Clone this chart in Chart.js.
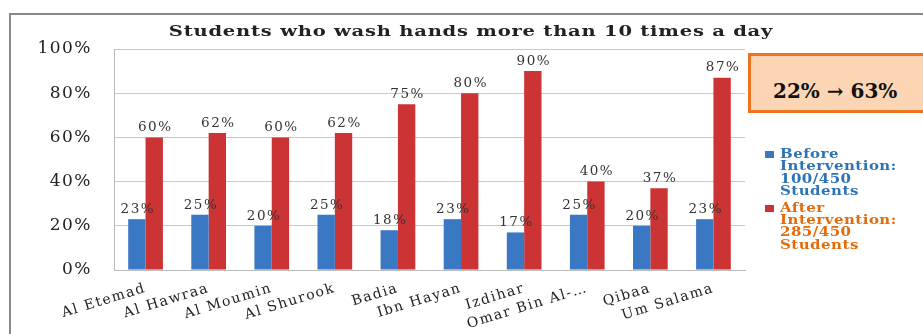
<!DOCTYPE html>
<html><head><meta charset="utf-8">
<script src="https://cdn.jsdelivr.net/npm/chart.js@4.4.1/dist/chart.umd.min.js"></script>
<style>
html,body{margin:0;padding:0;background:#fff;width:923px;height:334px;overflow:hidden;position:relative;}
#frame{position:absolute;left:9px;top:13px;width:930px;height:340px;border:2px solid #8a8a8a;box-sizing:border-box;}
#wrap{position:absolute;left:0;top:0;width:923px;height:334px;}
#title{position:absolute;left:0;top:22px;width:942px;text-align:center;font-family:"DejaVu Serif",serif;font-weight:bold;font-size:15px;line-height:18px;letter-spacing:0.6px;color:#222;white-space:nowrap;transform:scaleX(1.3);transform-origin:471px 0;}
#box{position:absolute;left:748px;top:53px;width:180px;height:60px;box-sizing:border-box;border:3px solid #E8761E;background:#FCD5B4;font-family:"DejaVu Serif",serif;font-weight:bold;font-size:20px;color:#111;padding:23px 0 0 22px;}
#legend{position:absolute;left:765px;top:148px;font-family:"DejaVu Serif",serif;font-weight:bold;font-size:12.5px;line-height:12.4px;letter-spacing:0.4px;}
.item{position:relative;padding-left:15px;margin-bottom:4px;}
.txt{display:inline-block;transform:scaleX(1.2);transform-origin:0 0;}
.sw{position:absolute;left:0;top:3px;width:9px;height:7px;}
</style></head>
<body>
<div id="frame"></div>
<div id="wrap"><canvas id="c" width="923" height="334"></canvas></div>
<div id="title"></div>
<div id="box">22% → 63%</div>
<div id="legend">
 <div class="item" style="color:#2E74B5"><span class="sw" style="background:#3A78C3"></span><span class="txt">Before<br>Intervention:<br>100/450<br>Students</span></div>
 <div class="item" style="color:#E36C0A"><span class="sw" style="background:#CB3335"></span><span class="txt">After<br>Intervention:<br>285/450<br>Students</span></div>
</div>
<script>
const categories = ["Al Etemad","Al Hawraa","Al Moumin","Al Shurook","Badia","Ibn Hayan","Izdihar","Omar Bin Al-…","Qibaa","Um Salama"];
const beforeValues = [23,25,20,25,18,23,17,25,20,23];
const afterValues = [60,62,60,62,75,80,90,40,37,87];
const yTicks = [0,20,40,60,80,100];
const titleText = "Students who wash hands more than 10 times a day";
document.getElementById('title').textContent = titleText;

const spacing = {
  id:'spacing',
  beforeUpdate(chart){ chart.ctx.letterSpacing = '1.5px'; },
  beforeDraw(chart){ chart.ctx.letterSpacing = '1.5px'; }
};

const valueLabels = {
  id:'valueLabels',
  afterDatasetsDraw(chart){
    const ctx = chart.ctx;
    ctx.save();
    ctx.letterSpacing = '1.5px';
    ctx.font = '13.5px "DejaVu Serif", serif';
    ctx.fillStyle = '#333';
    ctx.textAlign = 'center';
    ctx.textBaseline = 'bottom';
    chart.data.datasets.forEach((ds,i)=>{
      chart.getDatasetMeta(i).data.forEach((bar,j)=>{
        ctx.fillText(ds.data[j]+'%', bar.x+1, bar.y-3);
      });
    });
    ctx.restore();
  }
};

new Chart(document.getElementById('c'),{
  type:'bar',
  data:{labels:categories,datasets:[
    {label:'Before Intervention: 100/450 Students',data:beforeValues,backgroundColor:'#3A78C3',barPercentage:1,categoryPercentage:0.55},
    {label:'After Intervention: 285/450 Students',data:afterValues,backgroundColor:'#CB3335',barPercentage:1,categoryPercentage:0.55}
  ]},
  options:{
    responsive:false,animation:false,
    layout:{padding:{left:0,right:178,top:49,bottom:0}},
    plugins:{
      legend:{display:false},
      tooltip:{enabled:false},
      title:{display:false}
    },
    scales:{
      x:{
        grid:{display:false},
        border:{display:true,color:'#bbb'},
        ticks:{color:'#222',font:{family:'"DejaVu Serif", serif',size:14},minRotation:17,maxRotation:17,autoSkip:false,padding:2},
        afterFit(s){s.height=64;}
      },
      y:{
        min:0,max:100,
        afterBuildTicks(s){s.ticks=yTicks.map(v=>({value:v}));},
        grid:{color:'#c8c8c8',drawTicks:false},
        border:{display:true,color:'#bbb'},
        ticks:{color:'#222',font:{family:'"DejaVu Serif", serif',size:17},padding:22,callback:v=>v+'%'},
        afterFit(s){s.width=114;}
      }
    }
  },
  plugins:[spacing,valueLabels]
});
</script>
</body></html>
